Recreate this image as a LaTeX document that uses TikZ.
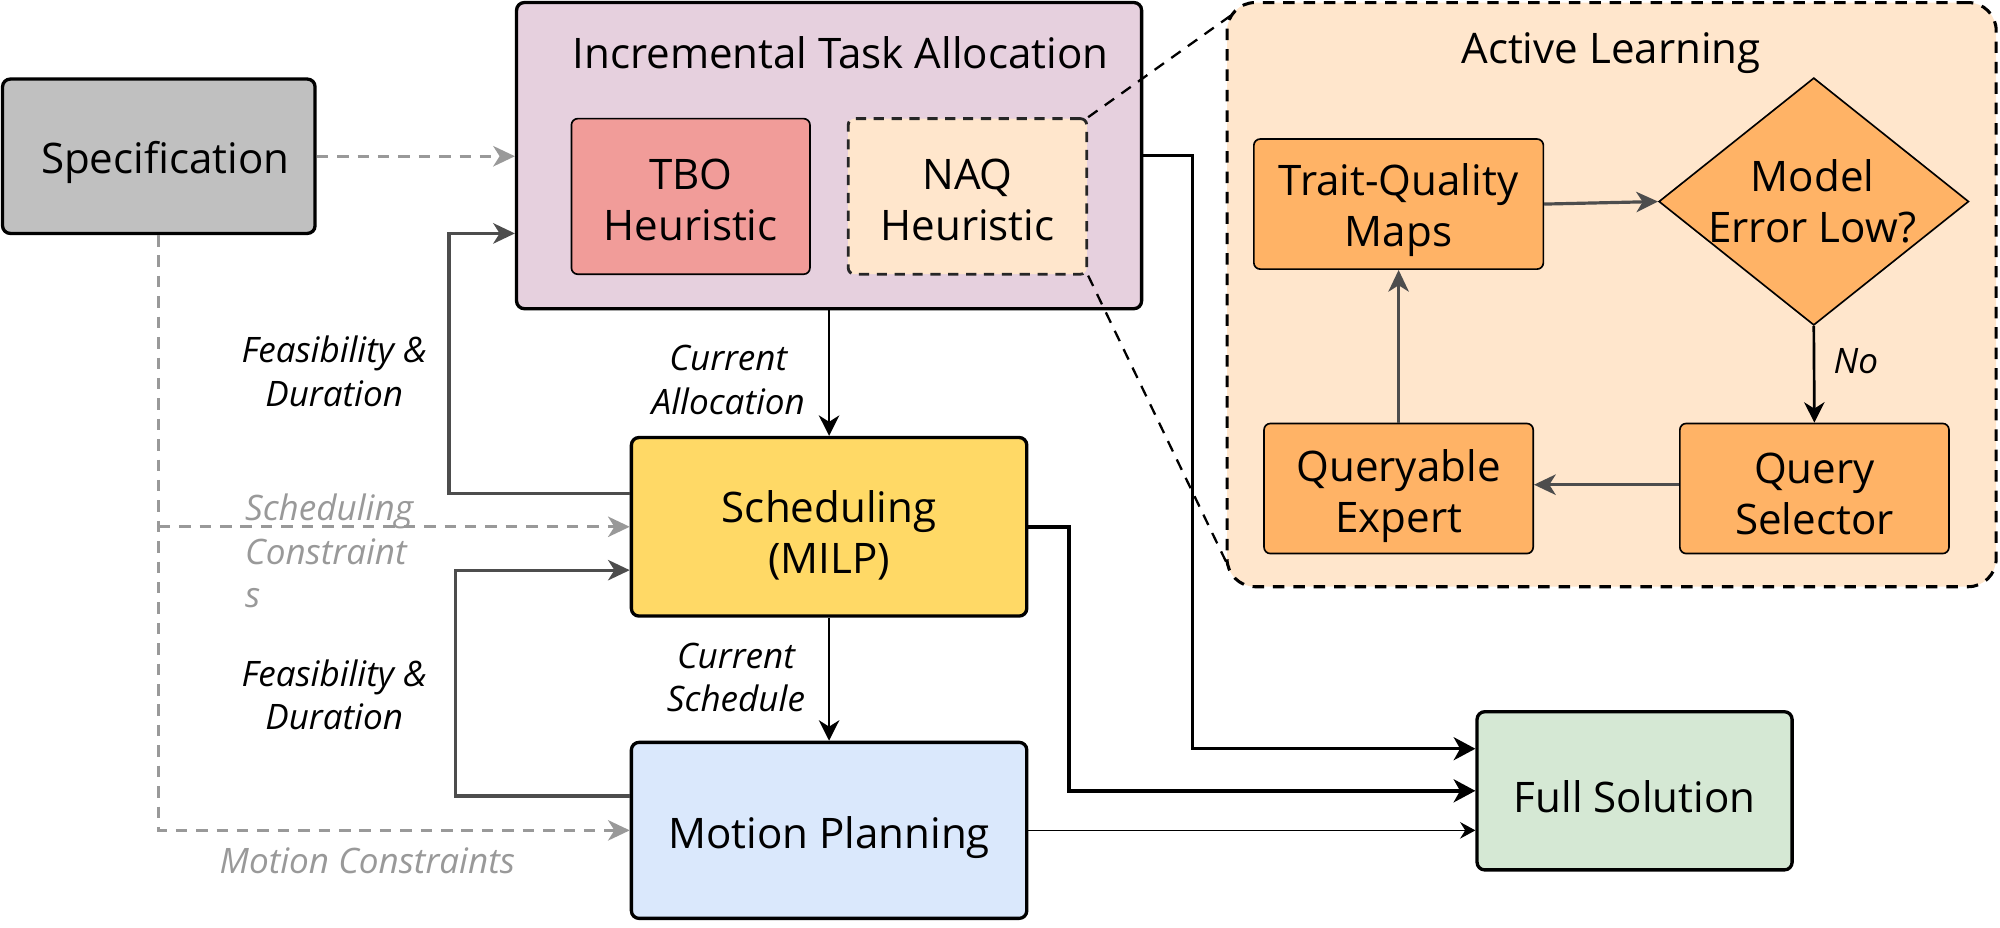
\documentclass[tikz,border=0pt]{standalone}
\usepackage{fontspec}
\setmainfont{Open Sans}
\usetikzlibrary{arrows.meta,shapes.geometric}
\definecolor{specgray}{HTML}{C0C0C0}
\definecolor{itafill}{HTML}{E6D0DE}
\definecolor{tbofill}{HTML}{F19C99}
\definecolor{peach}{HTML}{FFE6CC}
\definecolor{orangefill}{HTML}{FFB366}
\definecolor{schedfill}{HTML}{FFD966}
\definecolor{motionfill}{HTML}{DAE8FC}
\definecolor{fullfill}{HTML}{D5E8D4}
\definecolor{dashgray}{HTML}{999999}
\definecolor{darkline}{HTML}{4D4D4D}
\newcommand\mainsz{\fontsize{33}{40}\selectfont}
\newcommand\labsz{\fontsize{27.5}{34}\selectfont}
\begin{document}
\begin{tikzpicture}[x=1pt,y=-1pt,
  mainbox/.style={draw=black, line width=2.6pt, rounded corners=6pt, inner sep=0pt},
  subbox/.style={draw=black, line width=1.3pt, rounded corners=5pt, inner sep=0pt},
  btext/.style={font=\mainsz, align=center, inner sep=0pt},
  lab/.style={font=\labsz\itshape, align=center, inner sep=0pt},
  graylab/.style={font=\labsz\itshape, text=dashgray, inner sep=0pt},
  gdash/.style={draw=dashgray, line width=2.5pt, dash pattern=on 9pt off 7pt, -{Stealth[length=17pt,width=16pt,inset=5pt]}},
  fb/.style={draw=darkline, line width=2.5pt, -{Stealth[length=17pt,width=16pt,inset=5pt]}},
  blk/.style={draw=black, line width=2.1pt, -{Stealth[length=16pt,width=16pt,inset=5pt]}},
  zoomline/.style={draw=black, line width=1.8pt, dash pattern=on 9pt off 7pt}
]
\useasboundingbox (0,0) rectangle (1568,727);

% Active learning container
\node[draw=black, line width=2.4pt, dash pattern=on 9pt off 7pt, rounded corners=22pt, fill=peach,
      minimum width=603pt, minimum height=458pt, inner sep=0pt] (al) at (1263.5,231) {};
\node[btext] (alt) at (1263,42) {Active Learning};

% main boxes
\node[mainbox, fill=specgray, minimum width=245pt, minimum height=121pt] (spec) at (124.5,122.5) {};
\node[btext] (spect) at ([xshift=5pt,yshift=-5pt]spec.center) {Specification};
\node[mainbox, fill=itafill, minimum width=490pt, minimum height=240pt] (ita) at (650,122) {};
\node[btext] (itat) at (659,41) {Incremental Task Allocation};
\node[subbox, fill=tbofill, minimum width=187pt, minimum height=122pt] (tbo) at (541.5,154) {};
\node[btext] (tbot) at ([yshift=-3pt]tbo.center) {TBO\\Heuristic};
\node[subbox, draw=black!85, line width=2.2pt, dash pattern=on 8pt off 6pt, fill=peach, minimum width=187pt, minimum height=122pt] (naq) at (758.5,154) {};
\node[btext] (naqt) at ([yshift=-3pt]naq.center) {NAQ\\Heuristic};

\node[mainbox, fill=schedfill, minimum width=310pt, minimum height=140pt] (sched) at (650,413) {};
\node[btext] (schedt) at ([yshift=-7pt]sched.center) {Scheduling\\(MILP)};
\node[mainbox, fill=motionfill, minimum width=310pt, minimum height=138pt] (motion) at (650,651) {};
\node[btext] (motiont) at ([yshift=-6pt]motion.center) {Motion Planning};
\node[mainbox, fill=fullfill, minimum width=247pt, minimum height=124pt] (full) at (1281.5,620) {};
\node[btext] (fullt) at ([yshift=-5pt]full.center) {Full Solution};

% active learning inner
\node[subbox, fill=orangefill, minimum width=227pt, minimum height=102pt] (tq) at (1096.5,160) {};
\node[btext] (tqt) at ([yshift=-5pt]tq.center) {Trait-Quality\\Maps};
\node[diamond, draw=black, line width=1.3pt, fill=orangefill, minimum width=243pt, minimum height=194pt, inner sep=0pt] (dia) at (1422,158) {};
\node[btext] (diat) at (1421,158) {Model\\Error Low?};
\node[subbox, fill=orangefill, minimum width=211pt, minimum height=102pt] (qs) at (1422.5,383) {};
\node[btext] (qst) at ([yshift=-4pt]qs.center) {Query\\Selector};
\node[subbox, fill=orangefill, minimum width=211pt, minimum height=102pt] (qe) at (1096.5,383) {};
\node[btext] (qet) at ([yshift=-6pt]qe.center) {Queryable\\Expert};

\draw[fb] (tq.east) -- (dia.west);
\draw[blk] (dia.south) -- (qs.north);
\node[lab] (nolab) at (1455,283) {No};
\coordinate (qsw) at ([yshift=3pt]qs.west);
\coordinate (qee) at ([yshift=3pt]qe.east);
\draw[fb] (qsw) -- (qee);
\draw[fb] (qe.north) -- (tq.south);

% zoom lines
\coordinate (zt) at (968,10);
\coordinate (zb) at (962,442);
\draw[zoomline] (naq.north east) -- (zt);
\draw[zoomline] (naq.south east) -- (zb);

% spec dashed connectors
\draw[gdash] (spec.east) -- (spec.east -| ita.west);
\coordinate (br) at (spec.south |- sched.west);
\draw[gdash] (spec.south) |- (motion.west);
\draw[gdash] (br) -- (sched.west);
\node[graylab, align=left, anchor=west] (sclab) at (192,432) {Scheduling\\Constraint\\s};
\node[graylab] (mclab) at (288,675) {Motion Constraints};

% feedback
\coordinate (s1) at ([yshift=26pt]sched.west);
\coordinate (i1) at ([yshift=-61pt]ita.west);
\coordinate (m1) at ([yshift=27pt]motion.west);
\coordinate (s2) at ([yshift=-34pt]sched.west);
\coordinate (fx1) at (352,0);
\coordinate (fx2) at (357,0);
\draw[fb] (s1) -| (fx1 |- i1) -- (i1);
\draw[fb] (m1) -| (fx2 |- s2) -- (s2);
\node[lab] (fd1) at (262,291) {Feasibility \&\\Duration};
\node[lab] (fd2) at (262,545) {Feasibility \&\\Duration};

% main flow
\draw[blk] (ita.south) -- (sched.north);
\node[lab] (ca) at (571,298) {Current\\Allocation};
\draw[blk] (sched.south) -- (motion.north);
\node[lab] (cs) at (577,531) {Current\\Schedule};

% to full solution
\coordinate (f1) at ([yshift=33pt]full.west);
\coordinate (vx1) at (935,0);
\coordinate (vx2) at (838,0);
\draw[draw=black, line width=2.6pt, -{Stealth[length=17pt,width=18pt,inset=5pt]}] (ita.east) -| (vx1 |- f1) -- (f1);
\draw[draw=black, line width=3pt, -{Stealth[length=17pt,width=18pt,inset=5pt]}] (sched.east) -| (vx2 |- full.west) -- (full.west);
\draw[draw=black, line width=1.3pt, -{Stealth[length=12pt,width=13pt,inset=4pt]}] (motion.east) -- (motion.east -| full.west);
\end{tikzpicture}
\end{document}
